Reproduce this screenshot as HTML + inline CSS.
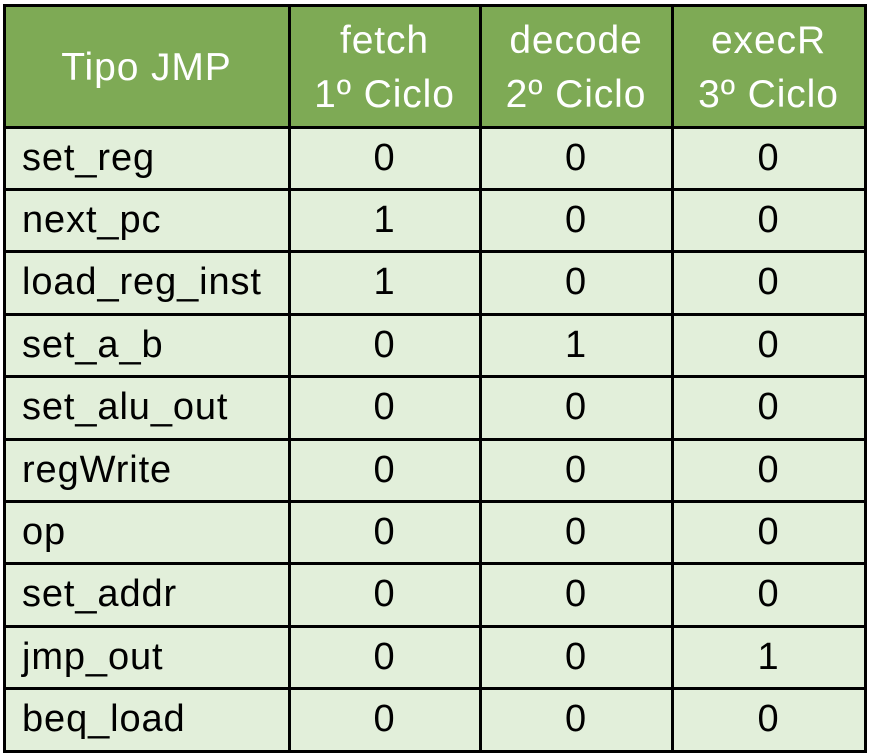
<!DOCTYPE html>
<html><head><style>
body{margin:0;width:870px;height:754px;background:#fff;font-family:"Liberation Sans",sans-serif;}
.c{position:absolute;box-sizing:border-box;display:flex;align-items:center;color:#000;font-size:38px;letter-spacing:0.9px;}
.h{background:#7eaa55;color:#fff;justify-content:center;text-align:center;line-height:54px;font-size:39px;padding-top:4px;}
.b{background:#e2efda;}
.n{justify-content:center;}
.l{padding-left:18px;}
.line{position:absolute;background:#000;}
</style></head><body>
<div id="t"></div>
<script>
const X=[4,289,480,672,865];
const rows=[["set_reg",0,0,0],["next_pc",1,0,0],["load_reg_inst",1,0,0],["set_a_b",0,1,0],["set_alu_out",0,0,0],["regWrite",0,0,0],["op",0,0,0],["set_addr",0,0,0],["jmp_out",0,0,1],["beq_load",0,0,0]];
const hdr=["Tipo JMP","fetch<br>1º Ciclo","decode<br>2º Ciclo","execR<br>3º Ciclo"];
let h="";
const Y=[5,127];for(let i=1;i<=10;i++)Y.push(127+i*62.4);
for(let c=0;c<4;c++)h+=`<div class="c h" style="left:${X[c]}px;top:5px;width:${X[c+1]-X[c]}px;height:122px">${hdr[c]}</div>`;
rows.forEach((r,i)=>{for(let c=0;c<4;c++)h+=`<div class="c b ${c?'n':'l'}" style="left:${X[c]}px;top:${Y[i+1]}px;width:${X[c+1]-X[c]}px;height:62.4px">${r[c]}</div>`;});
Y.forEach(y=>h+=`<div class="line" style="left:3px;top:${y-1.5}px;width:864px;height:3px"></div>`);
X.forEach(x=>h+=`<div class="line" style="left:${x-1.5}px;top:4px;width:3px;height:749px"></div>`);
document.getElementById("t").innerHTML=h;
</script>
</body></html>
